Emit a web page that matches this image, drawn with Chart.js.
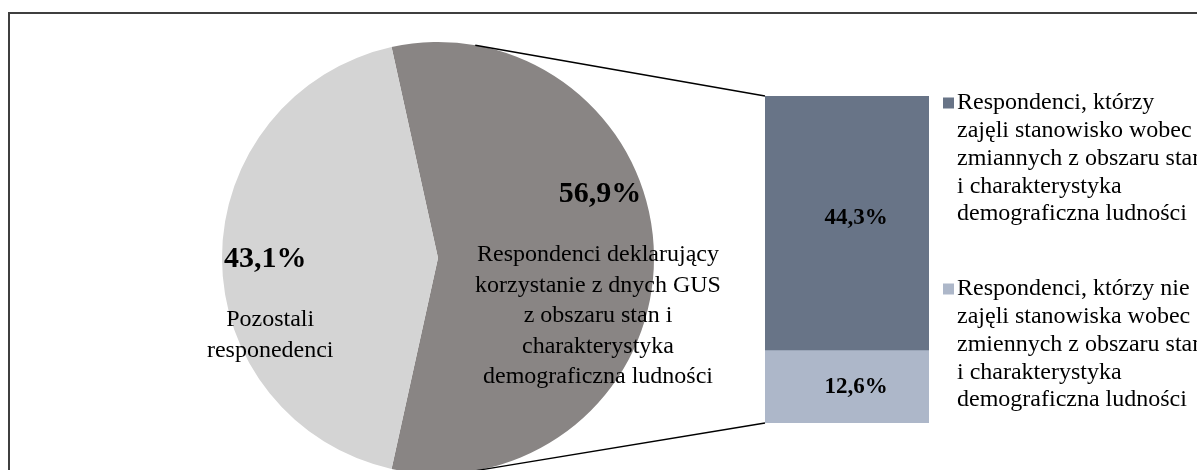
<!DOCTYPE html>
<html>
<head>
<meta charset="utf-8">
<script src="https://cdn.jsdelivr.net/npm/chart.js@4"></script>
<style>
  body { margin: 0; background: #fff; overflow: hidden; }
  #wrap { position: relative; width: 1197px; height: 470px; overflow: hidden; }
  #frame { position: absolute; left: 8px; top: 12px; width: 1400px; height: 700px; border: 2px solid #3f3f3f; }
  canvas { position: absolute; left: 0; top: 0; }
</style>
</head>
<body>
<div id="wrap">
  <div id="frame"></div>
  <canvas id="pie" width="1197" height="490"></canvas>
  <canvas id="bar" width="1197" height="490"></canvas>
</div>
<script>
// pie: first slice is the one split into the bar
const pieLabels = [
  ["Respondenci deklarujący", "korzystanie z dnych GUS", "z obszaru stan i", "charakterystyka", "demograficzna ludności"],
  ["Pozostali", "responedenci"]
];
const pieValues = [56.9, 43.1];
const pieColors = ["#898584", "#d4d4d4"];

// bar (top to bottom, same order as legend)
const barLabels = [
  ["Respondenci, którzy", "zajęli stanowisko wobec", "zmiannych z obszaru stan", "i charakterystyka", "demograficzna ludności"],
  ["Respondenci, którzy nie", "zajęli stanowiska wobec", "zmiennych z obszaru stan", "i charakterystyka", "demograficzna ludności"]
];
const barValues = [44.3, 12.6];
const barColors = ["#687487", "#adb7c9"];

const serif = '"Liberation Serif", "Times New Roman", serif';

function pct(v) {
  return v.toFixed(1).replace(".", ",") + "%";
}

const pieTotal = pieValues.reduce((a, b) => a + b, 0);

const pieText = {
  id: "pieText",
  afterDatasetsDraw(chart) {
    const ctx = chart.ctx;
    const arcs = chart.getDatasetMeta(0).data;
    // label anchors, relative to the radius
    const pos = [[0.75, -0.30], [-0.80, 0]];
    ctx.save();
    ctx.fillStyle = "#000";
    ctx.textAlign = "center";
    ctx.textBaseline = "middle";
    arcs.forEach((arc, i) => {
      const x = arc.x + pos[i][0] * arc.outerRadius;
      const y = arc.y + pos[i][1] * arc.outerRadius;
      ctx.font = "bold 30px " + serif;
      ctx.fillText(pct(pieValues[i]), x, y + 1);
      ctx.font = "24px " + serif;
      pieLabels[i].forEach((line, j) => {
        ctx.fillText(line, x + (i == 1 ? 5 : -2), y + 62 + j * 30.5);
      });
    });
    ctx.restore();
  }
};

const pieChart = new Chart(document.getElementById("pie"), {
  type: "pie",
  data: {
    labels: pieLabels.map(l => l.join(" ")),
    datasets: [{
      data: pieValues,
      backgroundColor: pieColors,
      borderWidth: 0
    }]
  },
  options: {
    responsive: false,
    animation: false,
    rotation: 90 - pieValues[0] / pieTotal * 180,
    layout: { padding: { left: 222, right: 543, top: 42, bottom: 16 } },
    plugins: { legend: { display: false }, tooltip: { enabled: false } }
  },
  plugins: [pieText]
});

const barExtras = {
  id: "barExtras",
  afterDatasetsDraw(chart) {
    const ctx = chart.ctx;
    const area = chart.chartArea;
    const topBar = chart.getDatasetMeta(1).data[0];
    const lowBar = chart.getDatasetMeta(0).data[0];

    // in-bar labels
    ctx.save();
    ctx.fillStyle = "#000";
    ctx.textAlign = "center";
    ctx.textBaseline = "middle";
    ctx.font = "bold 23px " + serif;
    [lowBar, topBar].forEach((b, i) => {
      const v = chart.data.datasets[i].data[0];
      ctx.fillText(pct(v), b.x + 9, (b.y + b.base) / 2 - (i == 1 ? 5 : 0));
    });

    // connector lines, tangent to the pie
    const arc = pieChart.getDatasetMeta(0).data[0];
    const left = topBar.x - topBar.width / 2;
    const corners = [[left, topBar.y, -1], [left, lowBar.base, 1]];
    ctx.strokeStyle = "#000";
    ctx.lineWidth = 1.5;
    corners.forEach(c => {
      const dx = c[0] - arc.x, dy = c[1] - arc.y;
      const d = Math.sqrt(dx * dx + dy * dy);
      const th = Math.atan2(dy, dx);
      const a = Math.acos(arc.outerRadius / d);
      const t = th + c[2] * a;
      ctx.beginPath();
      ctx.moveTo(arc.x + arc.outerRadius * Math.cos(t), arc.y + arc.outerRadius * Math.sin(t));
      ctx.lineTo(c[0], c[1]);
      ctx.stroke();
    });

    // legend
    const lx = area.right + 14;
    let ly = area.top + 7;
    ctx.textAlign = "left";
    ctx.font = "24px " + serif;
    [1, 0].forEach(i => {
      const ds = chart.data.datasets[i];
      ctx.fillStyle = ds.backgroundColor;
      ctx.fillRect(lx, ly - 5.5, 11, 11);
      ctx.fillStyle = "#000";
      ds.label.forEach((line, j) => {
        ctx.fillText(line, lx + 14, ly + j * 27.8);
      });
      ly += 186;
    });
    ctx.restore();
  }
};

new Chart(document.getElementById("bar"), {
  type: "bar",
  data: {
    labels: [""],
    datasets: [
      { label: barLabels[1], data: [barValues[1]], backgroundColor: barColors[1] },
      { label: barLabels[0], data: [barValues[0]], backgroundColor: barColors[0] }
    ]
  },
  options: {
    responsive: false,
    animation: false,
    barPercentage: 1,
    categoryPercentage: 1,
    layout: { padding: { left: 765, right: 268, top: 96, bottom: 67 } },
    scales: {
      x: { display: false, stacked: true },
      y: { display: false, stacked: true, min: 0, max: barValues[0] + barValues[1] }
    },
    plugins: { legend: { display: false }, tooltip: { enabled: false } }
  },
  plugins: [barExtras]
});
</script>
</body>
</html>
